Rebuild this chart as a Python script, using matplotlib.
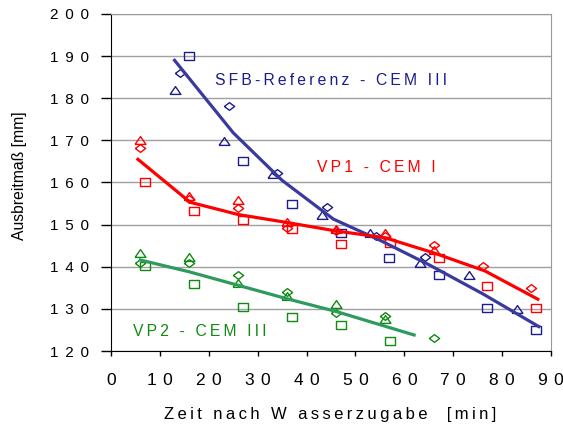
import matplotlib
matplotlib.use("Agg")
import matplotlib.pyplot as plt

plt.rcParams['font.family'] = ['Liberation Sans', 'DejaVu Sans']

# SFB-Referenz - CEM III (blue)
sfb_sq_x = [16, 26.9, 37.1, 47, 56.9, 67, 77, 86.9]
sfb_sq_y = [190.0, 165.1, 155.0, 148.1, 142.0, 138.0, 130.1, 124.9]
sfb_tri_x = [13.1, 23.1, 33.2, 43.1, 53, 63.1, 73.2, 83.1]
sfb_tri_y = [181.9, 169.8, 162.0, 152.4, 147.9, 140.8, 138.0, 129.9]
sfb_dia_x = [14.1, 24.1, 34, 44.1, 54.2, 64.2]
sfb_dia_y = [186.1, 178.1, 162.2, 154.1, 147.3, 142.2]
sfb_line_x = [13, 25, 35, 45.5, 55, 65, 76, 87.5]
sfb_line_y = [189, 171.8, 160.5, 151.3, 146.3, 140.5, 133.6, 125.8]

# VP1 - CEM I (red)
vp1_tri_x = [6, 16, 26, 36, 46, 56, 66]
vp1_tri_y = [170.0, 156.8, 155.8, 150.7, 149.0, 148.1, 144.0]
vp1_dia_x = [6, 16, 26, 36, 46, 56, 66, 76, 86]
vp1_dia_y = [168.3, 156.0, 154.0, 149.1, 148.5, 147.2, 145.1, 140.1, 135.0]
vp1_sq_x = [7, 17, 27, 37, 47, 57, 67, 77, 87]
vp1_sq_y = [160.0, 153.2, 151.1, 148.9, 145.4, 145.7, 142.0, 135.5, 130.1]
vp1_line_x = [5.5, 16.2, 26, 36, 46, 56, 66, 76.5, 87.3]
vp1_line_y = [165.5, 155.3, 152.4, 150.5, 148.5, 146.9, 143.3, 139.0, 132.3]

# VP2 - CEM III (green)
vp2_tri_x = [6, 16, 26, 36, 46, 56]
vp2_tri_y = [143.2, 142.2, 136.2, 133.1, 131.1, 127.5]
vp2_dia_x = [6, 16, 26, 36, 46, 56, 66]
vp2_dia_y = [140.9, 141.0, 138.0, 134.0, 129.1, 128.3, 123.0]
vp2_sq_x = [7, 17, 27, 37, 47, 57]
vp2_sq_y = [140.1, 135.9, 130.5, 128.1, 126.1, 122.4]
vp2_line_x = [6, 16, 26, 36, 46, 62]
vp2_line_y = [141.6, 138.8, 135.6, 132.4, 129.4, 123.8]

x_ticks = list(range(0, 91, 10))
y_ticks = list(range(120, 201, 10))

# flat markers (the original is wider than tall)
sq = [(-1, -0.7), (1, -0.7), (1, 0.7), (-1, 0.7), (-1, -0.7)]
tri = [(-1, -0.72), (1, -0.72), (0, 0.72), (-1, -0.72)]
dia = [(-1, 0), (0, 0.75), (1, 0), (0, -0.75), (-1, 0)]

blue_mk = '#1C1C8C'
blue_ln = '#3A3A9E'
red = '#FF0000'
green_mk = '#118A11'
green_ln = '#2E9A5E'


def spaced(s, sep='\u2009'):
    # letter spacing like the original chart
    return sep.join(s)


fig = plt.figure(figsize=(5.63, 4.25), dpi=100)
ax = fig.add_axes([0.1972, 0.1741, 0.7815, 0.793])

def markers(x, y, m, c, ms=7.4):
    ax.plot(x, y, linestyle='none', marker=m, ms=ms, mfc='none', mec=c, mew=1.0, zorder=3)

markers(sfb_sq_x, sfb_sq_y, sq, blue_mk)
markers(sfb_tri_x, sfb_tri_y, tri, blue_mk, 7.8)
markers(sfb_dia_x, sfb_dia_y, dia, blue_mk)
markers(vp1_tri_x, vp1_tri_y, tri, red, 7.8)
markers(vp1_dia_x, vp1_dia_y, dia, red)
markers(vp1_sq_x, vp1_sq_y, sq, red)
markers(vp2_tri_x, vp2_tri_y, tri, green_mk, 7.8)
markers(vp2_dia_x, vp2_dia_y, dia, green_mk)
markers(vp2_sq_x, vp2_sq_y, sq, green_mk)

ax.plot(sfb_line_x, sfb_line_y, color=blue_ln, lw=2.3, zorder=4)
ax.plot(vp1_line_x, vp1_line_y, color=red, lw=2.3, zorder=4)
ax.plot(vp2_line_x, vp2_line_y, color=green_ln, lw=2.3, zorder=4)

ax.set_xlim(0, 90)
ax.set_ylim(120, 200)
ax.set_xticks(x_ticks)
ax.set_yticks(y_ticks)
ax.set_xticklabels([spaced(str(t), ' \u200a') for t in x_ticks], fontsize=12.5)
ax.set_yticklabels([spaced(str(t), ' \u200a\u200a') for t in y_ticks], fontsize=11)
ax.tick_params(axis='y', direction='out', length=7.2, width=1, pad=9, colors='black')
ax.tick_params(axis='x', direction='out', length=3.6, width=1, pad=12, colors='black')

ax.grid(axis='y', color='#A0A0A0', lw=1)
ax.set_axisbelow(True)
for side in ['top', 'right']:
    ax.spines[side].set_color('#999999')
for side in ['left', 'bottom']:
    ax.spines[side].set_color('black')

ax.set_xlabel(spaced('Zeit nach W asserzugabe  [min]'), fontsize=12, va='center')
ax.xaxis.set_label_coords(0.498, -0.187)
ax.set_ylabel('Ausbreitmaß [mm]', fontsize=11.3, va='center')
ax.yaxis.set_label_coords(-0.209, 0.519)

fig.text(215 / 563, 1 - 80.5 / 425, spaced('SFB-Referenz - CEM III'), color=blue_mk,
         fontsize=11.3, va='center', ha='left')
fig.text(317 / 563, 1 - 168 / 425, spaced('VP1 - CEM I'), color=red,
         fontsize=11.3, va='center', ha='left')
fig.text(133 / 563, 1 - 331 / 425, spaced('VP2 - CEM III'), color=green_mk,
         fontsize=11.3, va='center', ha='left')

fig.savefig('out.png', dpi=100)
